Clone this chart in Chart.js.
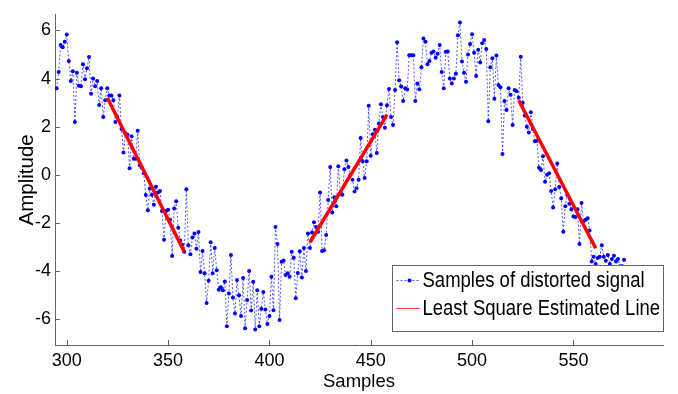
<!DOCTYPE html>
<html>
<head>
<meta charset="utf-8">
<script src="https://cdn.jsdelivr.net/npm/chart.js@4.4.0/dist/chart.umd.min.js"></script>
<style>
html, body { margin: 0; padding: 0; background: #fff; }
#wrap { width: 678px; height: 394px; }
</style>
</head>
<body>
<div id="wrap"><canvas id="chart" width="678" height="394"></canvas></div>
<script>
// samples 295..575, one value per sample
const firstSample = 295;
const sampleValues = [
  3.6, 4.27, 5.4, 5.3, 5.53, 5.83, 4.73, 3.9, 4.3, 2.2,
  4.24, 3.7, 3.68, 4.6, 3.97, 4.43, 4.9, 3.37, 4.0, 3.68,
  3.9, 2.9, 3.6, 2.4, 3.1, 3.6, 3.3, 3.3, 3.1, 2.2,
  2.4, 3.3, 1.9, 0.93, 1.73, 1.67, 0.27, 1.6, 0.67, 0.67,
  1.83, 0.4, 0.3, 0.07, -0.84, -1.47, -0.57, -0.83, -1.24, -0.49,
  -0.73, -0.67, -1.5, -2.7, -1.5, -1.45, -1.87, -3.37, -1.4, -1.1,
  -2.2, -2.73, -2.9, -3.2, -0.6, -2.93, -3.3, -2.6, -2.44, -3.07,
  -2.37, -4.04, -3.16, -4.09, -5.33, -4.4, -2.8, -4.09, -3.04, -3.96,
  -4.77, -4.67, -4.8, -4.43, -6.29, -4.93, -3.33, -5.1, -5.76, -4.37,
  -5.0, -5.87, -4.29, -6.37, -5.2, -4.0, -5.64, -4.44, -6.43, -4.8,
  -6.29, -5.56, -4.87, -5.6, -6.2, -5.87, -4.23, -5.63, -2.17, -2.87,
  -6.03, -3.61, -3.56, -4.16, -4.09, -4.23, -3.2, -3.44, -5.13, -4.08,
  -3.17, -4.27, -3.04, -4.0, -2.44, -3.04, -2.4, -1.97, -2.17, -2.36,
  -0.73, -3.16, -3.13, -2.5, -1.04, 0.33, -1.56, -0.93, -1.31, 0.36,
  -0.8, -0.83, 0.23, 0.6, 0.33, 0.0, -0.2, -0.69, -0.56, -0.2,
  1.53, 0.57, -0.13, 0.57, 2.87, 0.79, 1.69, 1.87, 0.91, 2.13,
  2.93, 2.4, 1.96, 2.89, 3.57, 2.4, 2.07, 3.53, 5.51, 3.93,
  3.67, 3.07, 3.6, 3.55, 4.97, 4.97, 4.97, 3.07, 3.8, 3.56,
  4.47, 5.67, 5.53, 4.6, 4.73, 5.07, 5.13, 4.87, 5.03, 5.4,
  4.27, 3.6, 5.11, 5.13, 4.0, 3.8, 4.0, 4.2, 5.8, 6.33,
  4.71, 4.24, 3.87, 5.0, 5.44, 5.84, 5.07, 4.11, 5.2, 4.67,
  5.47, 5.6, 5.23, 2.23, 4.47, 4.84, 3.16, 4.96, 3.73, 3.64,
  0.87, 3.07, 2.69, 3.6, 3.33, 2.07, 3.53, 3.47, 3.2, 4.91,
  3.0, 2.47, 2.0, 1.76, 2.6, 1.9, 1.4, 1.42, 0.29, 0.2,
  0.77, -0.29, 0.0, 0.07, -0.67, -1.36, -0.6, 0.47, -0.5, -0.97,
  -2.36, -1.3, -0.84, -1.2, -1.43, -1.73, -1.75, -1.43, -2.87, -1.17,
  -1.93, -1.87, -1.8, -2.31, -3.6, -3.4, -3.7, -3.45, -3.4, -2.93,
  -3.4, -3.57, -3.33, -3.7, -3.5, -3.36, -3.6, -3.5, -3.8, -3.8, -3.53
];

// least square segments (start / end)
const fitStartX = [320, 420, 523];
const fitStartY = [3.2, -2.8, 3.1];
const fitEndX = [358, 458, 561];
const fitEndY = [-3.2, 2.5, -3.05];

const xTicks = [300, 350, 400, 450, 500, 550];
const yTicks = [-6, -4, -2, 0, 2, 4, 6];
const legendLabels = ['Samples of distorted signal', 'Least Square Estimated Line'];

const axisColor = '#666';
const fontFamily = '"Liberation Sans", Arial, Helvetica, sans-serif';

const samplePoints = sampleValues.map((v, i) => ({ x: firstSample + i, y: v }));
const fitPoints = [];
fitStartX.forEach((x, i) => {
    fitPoints.push({ x: x, y: fitStartY[i] });
    fitPoints.push({ x: fitEndX[i], y: fitEndY[i] });
    fitPoints.push({ x: fitEndX[i], y: null });
});

// ticks pointing inward, like matlab
const innerTicks = {
    id: 'innerTicks',
    afterDatasetsDraw(chart) {
        const ctx = chart.ctx;
        const xs = chart.scales.x, ys = chart.scales.y;
        const a = chart.chartArea;
        ctx.save();
        ctx.strokeStyle = axisColor;
        ctx.lineWidth = 1;
        ctx.beginPath();
        xTicks.forEach(t => {
            const px = Math.round(xs.getPixelForValue(t)) + 0.5;
            ctx.moveTo(px, a.bottom);
            ctx.lineTo(px, a.bottom - 5);
        });
        yTicks.forEach(t => {
            const py = Math.round(ys.getPixelForValue(t)) + 0.5;
            ctx.moveTo(a.left, py);
            ctx.lineTo(a.left + 5, py);
        });
        ctx.stroke();
        ctx.restore();
    }
};

const boxLegend = {
    id: 'boxLegend',
    afterDraw(chart) {
        const ctx = chart.ctx;
        const a = chart.chartArea;
        const w = 271, h = 66;
        const x0 = a.right - w + 0.5, y0 = a.bottom - 14 - h + 0.5;
        ctx.save();
        ctx.fillStyle = '#fff';
        ctx.fillRect(x0, y0, w, h);
        ctx.strokeStyle = axisColor;
        ctx.lineWidth = 1;
        ctx.strokeRect(x0, y0, w, h);

        const r1 = y0 + 15, r2 = y0 + 43;
        // row 1: dotted blue with marker
        ctx.strokeStyle = 'rgba(30,30,255,0.75)';
        ctx.setLineDash([2, 2]);
        ctx.beginPath();
        ctx.moveTo(x0 + 4, r1);
        ctx.lineTo(x0 + 27, r1);
        ctx.stroke();
        ctx.setLineDash([]);
        ctx.fillStyle = '#0000ff';
        ctx.beginPath();
        ctx.arc(x0 + 17, r1, 2, 0, Math.PI * 2);
        ctx.fill();
        // row 2: red line
        ctx.strokeStyle = '#ff4040';
        ctx.beginPath();
        ctx.moveTo(x0 + 4, r2);
        ctx.lineTo(x0 + 27, r2);
        ctx.stroke();

        // text looks a bit tall in the original, stretch it
        ctx.fillStyle = '#000';
        ctx.font = '18.5px ' + fontFamily;
        ctx.textBaseline = 'middle';
        ctx.textAlign = 'left';
        [r1, r2].forEach((r, i) => {
            ctx.save();
            ctx.translate(x0 + 30, r);
            ctx.scale(1, 1.18);
            ctx.fillText(legendLabels[i], 0, 0);
            ctx.restore();
        });
        ctx.restore();
    }
};

new Chart(document.getElementById('chart'), {
    type: 'scatter',
    data: {
        datasets: [
            {
                label: legendLabels[1],
                data: fitPoints,
                showLine: true,
                spanGaps: false,
                borderColor: '#ff0000',
                borderWidth: 3.5,
                pointRadius: 0,
                order: 0
            },
            {
                label: legendLabels[0],
                data: samplePoints,
                showLine: true,
                borderColor: 'rgba(30,30,255,0.75)',
                borderWidth: 1,
                borderDash: [2, 2],
                pointRadius: 2,
                pointBackgroundColor: '#0000ff',
                pointBorderWidth: 0,
                order: 1
            }
        ]
    },
    options: {
        responsive: false,
        animation: false,
        layout: { padding: { top: 2, right: 15, left: 0, bottom: 0 } },
        plugins: {
            legend: { display: false },
            tooltip: { enabled: false }
        },
        scales: {
            x: {
                type: 'linear',
                min: 294.2,
                max: 594.2,
                afterFit(s) { s.height = 49; },
                afterBuildTicks(s) { s.ticks = xTicks.map(v => ({ value: v })); },
                grid: { display: false, drawTicks: false },
                border: { display: true, color: axisColor, width: 1 },
                ticks: { color: '#000', padding: 5, font: { size: 18, family: fontFamily } },
                title: {
                    display: true, text: 'Samples', color: '#000',
                    font: { size: 18.5, family: fontFamily }, padding: { top: 0, bottom: 1 }
                }
            },
            y: {
                type: 'linear',
                min: -7.07,
                max: 6.65,
                afterFit(s) { s.width = 55; },
                afterBuildTicks(s) { s.ticks = yTicks.map(v => ({ value: v })); },
                grid: { display: false, drawTicks: false },
                border: { display: true, color: axisColor, width: 1 },
                ticks: { color: '#000', padding: 4, font: { size: 18, family: fontFamily } },
                title: {
                    display: true, text: 'Amplitude', color: '#000',
                    font: { size: 20.5, family: fontFamily }, padding: { top: 15, bottom: 0 }
                }
            }
        }
    },
    plugins: [innerTicks, boxLegend]
});
</script>
</body>
</html>
